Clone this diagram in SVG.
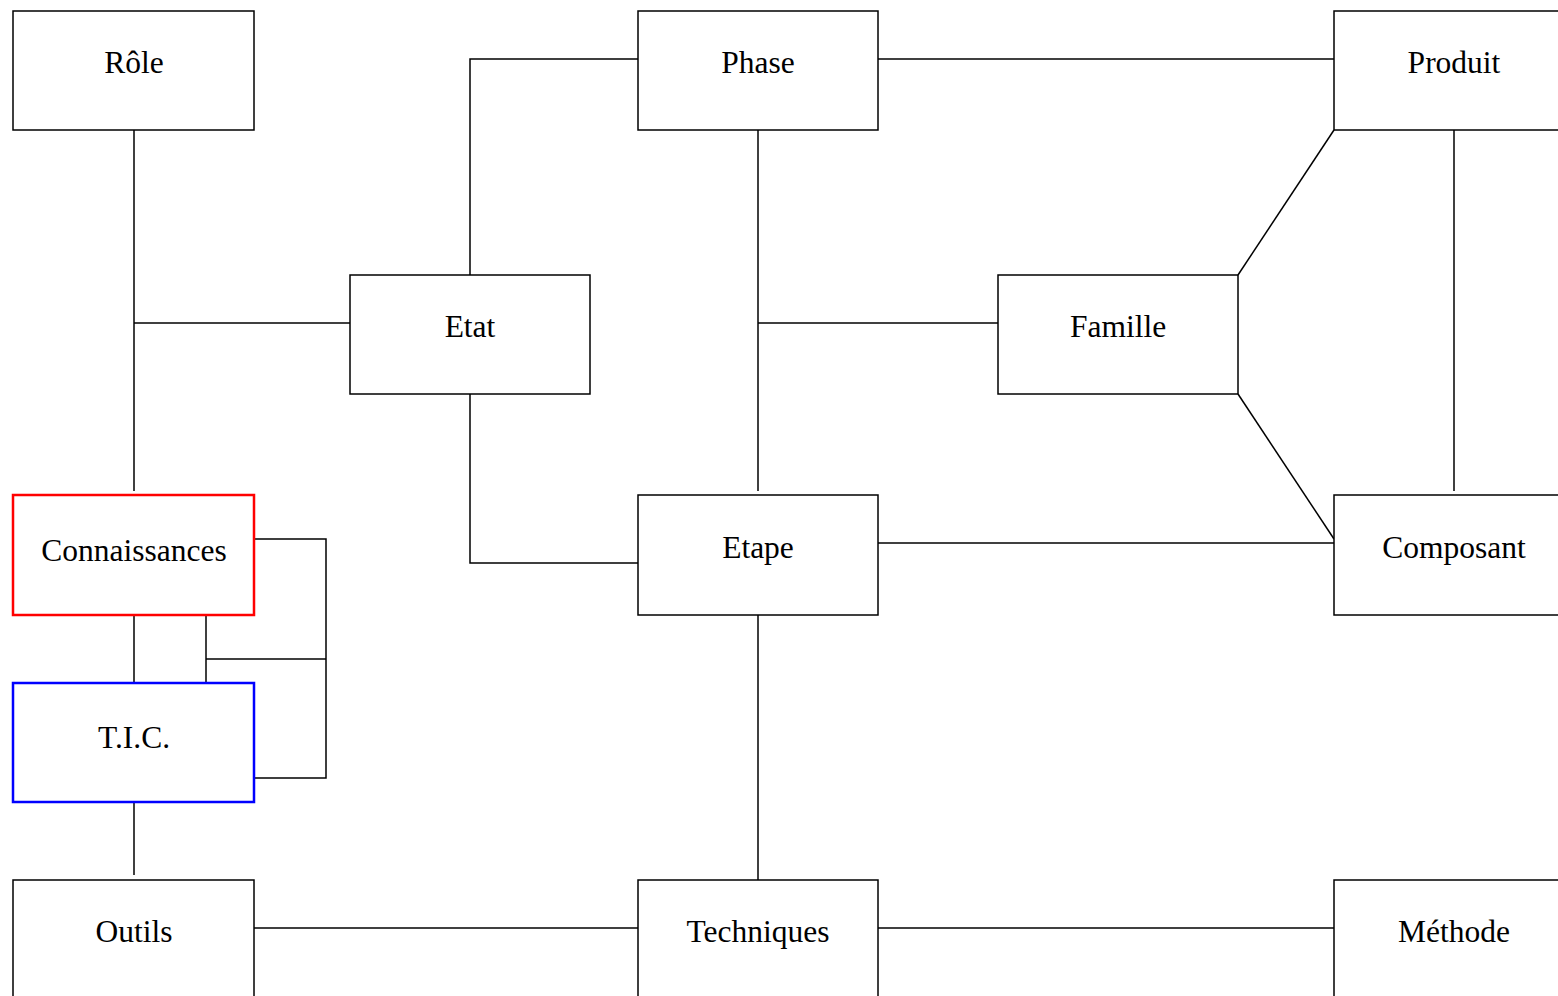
<svg xmlns="http://www.w3.org/2000/svg" width="1558" height="996" viewBox="0 0 1558 996">
<style>
.box{fill:#fff;stroke:#000;stroke-width:1.5}
.red{stroke:#ff0000;stroke-width:2.5}
.blue{stroke:#0000ff;stroke-width:2.5}
.lbl{font-family:"Liberation Serif","Times New Roman",serif;font-size:31.5px;text-anchor:middle;fill:#000}
.c{fill:none;stroke:#000;stroke-width:1.5}
</style>
<rect width="1558" height="996" fill="#fff"/>
<g id="connectors">
<path class="c" d="M134,130V491"/>
<path class="c" d="M134,323H350"/>
<path class="c" d="M470,275V59H638"/>
<path class="c" d="M470,394V563H638"/>
<path class="c" d="M878,59H1334"/>
<path class="c" d="M758,130V491"/>
<path class="c" d="M758,323H998"/>
<path class="c" d="M1238,275L1334,130"/>
<path class="c" d="M1238,394L1334,539"/>
<path class="c" d="M1454,130V491"/>
<path class="c" d="M878,543H1334"/>
<path class="c" d="M758,615V880"/>
<path class="c" d="M254,928H638"/>
<path class="c" d="M878,928H1334"/>
<path class="c" d="M254,539H326V778H254"/>
<path class="c" d="M206,615V683"/>
<path class="c" d="M206,659H326"/>
<path class="c" d="M134,610V683"/>
<path class="c" d="M134,802V875"/>
</g>
<g id="role"><rect class="box" x="13" y="11" width="241" height="119"/><text class="lbl" x="134" y="73">Rôle</text></g>
<g id="phase"><rect class="box" x="638" y="11" width="240" height="119"/><text class="lbl" x="758" y="73">Phase</text></g>
<g id="produit"><rect class="box" x="1334" y="11" width="240" height="119"/><text class="lbl" x="1454" y="73">Produit</text></g>
<g id="etat"><rect class="box" x="350" y="275" width="240" height="119"/><text class="lbl" x="470" y="337">Etat</text></g>
<g id="famille"><rect class="box" x="998" y="275" width="240" height="119"/><text class="lbl" x="1118" y="337">Famille</text></g>
<g id="connaissances"><rect class="box red" x="13" y="495" width="241" height="120"/><text class="lbl" x="134" y="561">Connaissances</text></g>
<g id="etape"><rect class="box" x="638" y="495" width="240" height="120"/><text class="lbl" x="758" y="558">Etape</text></g>
<g id="composant"><rect class="box" x="1334" y="495" width="240" height="120"/><text class="lbl" x="1454" y="558">Composant</text></g>
<g id="tic"><rect class="box blue" x="13" y="683" width="241" height="119"/><text class="lbl" x="134" y="748">T.I.C.</text></g>
<g id="outils"><rect class="box" x="13" y="880" width="241" height="130"/><text class="lbl" x="134" y="942">Outils</text></g>
<g id="techniques"><rect class="box" x="638" y="880" width="240" height="130"/><text class="lbl" x="758" y="942">Techniques</text></g>
<g id="methode"><rect class="box" x="1334" y="880" width="240" height="130"/><text class="lbl" x="1454" y="942">Méthode</text></g>
</svg>
